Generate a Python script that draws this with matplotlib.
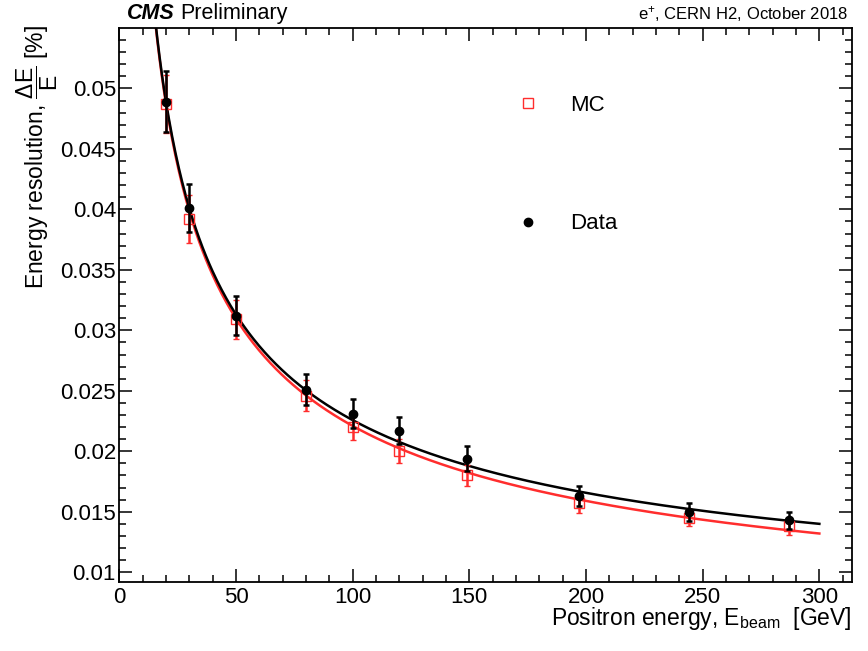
"""
Energy resolution vs positron beam energy, CMS test beam (CERN H2, Oct 2018).
Data (black dots) and MC (red open squares) with stochastic+constant fits.
"""

import matplotlib
matplotlib.use("Agg")
import matplotlib.pyplot as plt
from matplotlib.lines import Line2D
from matplotlib.ticker import MultipleLocator, FuncFormatter
import numpy as np

plt.rcParams["font.family"] = ["Liberation Sans", "DejaVu Sans"]
plt.rcParams["mathtext.fontset"] = "custom"
plt.rcParams["mathtext.rm"] = "Liberation Sans"
plt.rcParams["mathtext.it"] = "Liberation Sans:italic"
plt.rcParams["mathtext.bf"] = "Liberation Sans:bold"

# ── Data ──────────────────────────────────────────────────────────────────────
energy_data = [20, 30, 50, 80, 100, 120, 149, 197, 244, 287]
res_data    = [0.0489, 0.0401, 0.0312, 0.0251, 0.0231, 0.0217, 0.0194, 0.0163, 0.0150, 0.0143]
err_data    = [0.0025, 0.0020, 0.0016, 0.0013, 0.0012, 0.0011, 0.0010, 0.0008, 0.00075, 0.0007]

energy_mc = [20, 30, 50, 80, 100, 120, 149, 197, 244, 287]
res_mc    = [0.0487, 0.0392, 0.0309, 0.0246, 0.0220, 0.0200, 0.0180, 0.0157, 0.0145, 0.0138]
err_mc    = [0.0024, 0.0020, 0.0016, 0.0013, 0.0011, 0.0010, 0.0009, 0.0008, 0.0007, 0.0007]

# fit parameters: sigma/E = sqrt(S^2/E + C^2)
fit_data = (0.2169, 0.00626)
fit_mc   = (0.2170, 0.00416)
fit_range = (10, 300)

RED = "#ff2d2d"
BLACK = "black"


def resolution(e, s, c):
    return np.sqrt(s ** 2 / e + c ** 2)


fig = plt.figure(figsize=(8.68, 6.51), dpi=100)
ax = fig.add_axes([0.1375, 0.1065, 0.8441, 0.85])

# ── Fit curves ────────────────────────────────────────────────────────────────
e_fit = np.linspace(fit_range[0], fit_range[1], 600)
ax.plot(e_fit, resolution(e_fit, *fit_mc), color=RED, lw=1.8, zorder=2)
ax.plot(e_fit, resolution(e_fit, *fit_data), color=BLACK, lw=1.8, zorder=3)

# ── Points ────────────────────────────────────────────────────────────────────
ax.errorbar(energy_mc, res_mc, yerr=err_mc, fmt="s", ms=6.5, mfc="none",
            mec=RED, mew=1.0, ecolor=RED, elinewidth=1.8, capsize=2,
            capthick=1.8, zorder=4)
ax.errorbar(energy_data, res_data, yerr=err_data, fmt="o", ms=6,
            color=BLACK, ecolor=BLACK, elinewidth=1.8, capsize=2.5,
            capthick=1.8, zorder=5)

# ── Axes ──────────────────────────────────────────────────────────────────────
ax.set_xlim(0, 314)
ax.set_ylim(0.00922, 0.05497)
ax.xaxis.set_major_locator(MultipleLocator(50))
ax.xaxis.set_minor_locator(MultipleLocator(10))
ax.yaxis.set_major_locator(MultipleLocator(0.005))
ax.yaxis.set_minor_locator(MultipleLocator(0.001))
ax.yaxis.set_major_formatter(FuncFormatter(lambda v, p: f"{v:g}"))
ax.tick_params(which="both", direction="in", top=True, right=True,
               width=1.1, labelsize=16)
ax.tick_params(which="major", length=9.5)
ax.tick_params(which="minor", length=5)
ax.tick_params(axis="y", pad=2.5)
ax.tick_params(axis="x", pad=3.5)
for spine in ax.spines.values():
    spine.set_linewidth(1.3)

ax.set_xlabel(r"Positron energy, E$_{\mathregular{beam}}$  [GeV]",
              fontsize=16.5, loc="right")
ax.xaxis.set_label_coords(1.0, -0.043)
ax.xaxis.label.set_va("top")
ax.set_ylabel(r"Energy resolution, $\mathregular{\dfrac{\Delta E}{E}}$ [%]",
              fontsize=16.5, loc="top")
ax.yaxis.set_label_coords(-0.081, 1.005)

# ── Legend ────────────────────────────────────────────────────────────────────
handles = [
    Line2D([0], [0], marker="s", ls="None", mfc="none", mec=RED, mew=1.0,
           ms=6.5, label="MC"),
    Line2D([0], [0], marker="o", ls="None", color=BLACK, ms=6, label="Data"),
]
ax.legend(handles=handles, loc="upper left", bbox_to_anchor=(0.527, 0.88),
          frameon=False, fontsize=16, labelspacing=4.4, handlelength=2,
          handletextpad=0.9, borderpad=0, borderaxespad=0)

# ── Header ────────────────────────────────────────────────────────────────────
ax.text(0.01, 1.008, "CMS", transform=ax.transAxes, fontsize=15.5,
        fontweight="bold", fontstyle="italic", ha="left", va="bottom")
ax.text(0.0828, 1.008, "Preliminary", transform=ax.transAxes, fontsize=15.5,
        ha="left", va="bottom")
ax.text(0.995, 1.008, r"e$^{+}$, CERN H2, October 2018", transform=ax.transAxes,
        fontsize=12, ha="right", va="bottom")

fig.savefig("out.png", dpi=100, facecolor="white")
